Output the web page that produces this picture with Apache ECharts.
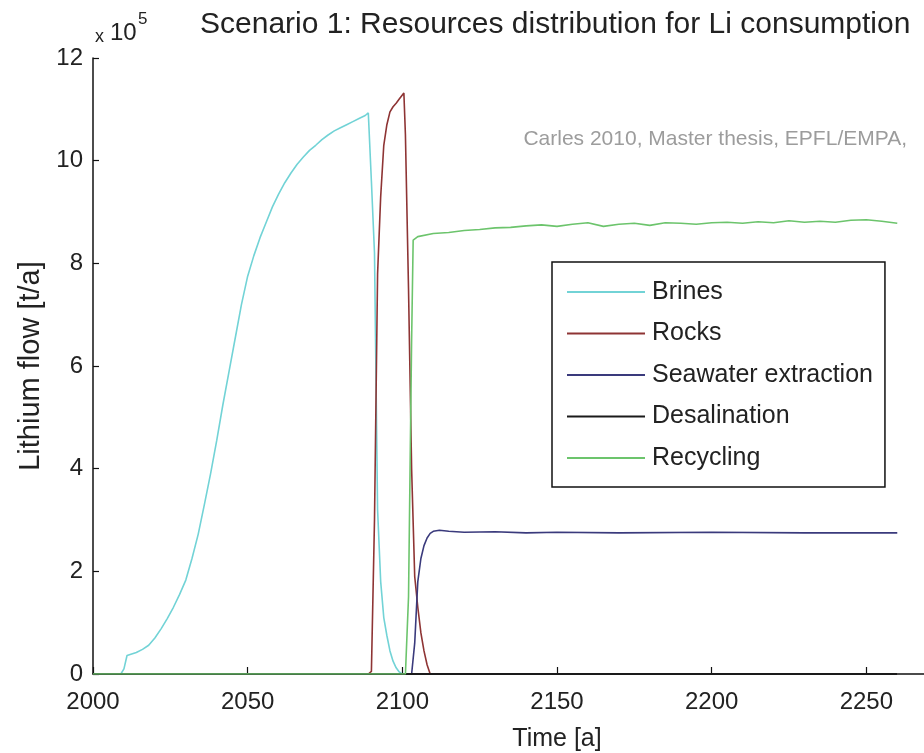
<!DOCTYPE html>
<html>
<head>
<meta charset="utf-8">
<script src="https://cdn.jsdelivr.net/npm/echarts@6/dist/echarts.min.js"></script>
<style>html,body{margin:0;padding:0;background:#fff;}#c{width:924px;height:753px;}</style>
</head>
<body>
<div id="c"></div>
<script>
// Values in units of 10^5 t/a
var brinesYears  = [2000,2009,2010,2011,2012,2014,2016,2018,2020,2022,2024,2026,2028,2030,2032,2034,2036,2038,2040,2042,2044,2046,2048,2050,2052,2054,2056,2058,2060,2062,2064,2066,2068,2070,2072,2074,2076,2078,2080,2082,2084,2086,2088,2089,2090,2091,2092,2093,2094,2095,2096,2097,2098,2099,2100,2260];
var brinesValues = [0,0,0.1,0.36,0.38,0.42,0.48,0.56,0.7,0.88,1.08,1.3,1.55,1.83,2.25,2.72,3.3,3.9,4.55,5.25,5.9,6.55,7.2,7.75,8.15,8.5,8.8,9.1,9.35,9.57,9.76,9.93,10.07,10.2,10.3,10.41,10.5,10.58,10.64,10.7,10.76,10.82,10.88,10.93,9.6,8.2,3.2,1.8,1.1,0.75,0.45,0.25,0.12,0.04,0,0];

var rocksYears  = [2000,2089,2090,2091,2092,2093,2094,2095,2096,2097,2098,2099,2100,2100.5,2101,2102,2103,2104,2105,2106,2107,2108,2109,2260];
var rocksValues = [0,0,0.05,3.0,7.8,9.3,10.3,10.7,10.95,11.05,11.12,11.2,11.28,11.32,10.5,7.5,4.0,1.9,1.3,0.8,0.45,0.18,0,0];

var seawaterYears  = [2000,2103,2104,2105,2106,2107,2108,2109,2110,2112,2115,2120,2130,2140,2150,2170,2200,2230,2260];
var seawaterValues = [0,0,0.6,1.8,2.25,2.5,2.65,2.74,2.78,2.8,2.78,2.76,2.77,2.75,2.76,2.75,2.76,2.75,2.75];

var desalYears  = [2000,2260];
var desalValues = [0,0];

var recyclingYears  = [2000,2101,2102,2103,2103.5,2105,2110,2115,2120,2125,2130,2135,2140,2145,2150,2155,2160,2165,2170,2175,2180,2185,2190,2195,2200,2205,2210,2215,2220,2225,2230,2235,2240,2245,2250,2255,2260];
var recyclingValues = [0,0,1.5,6.5,8.45,8.52,8.58,8.6,8.64,8.66,8.69,8.7,8.73,8.75,8.72,8.76,8.79,8.72,8.76,8.78,8.74,8.79,8.78,8.76,8.79,8.8,8.78,8.81,8.79,8.83,8.8,8.82,8.8,8.84,8.85,8.82,8.78];

var xTicks = {min: 2000, max: 2300, step: 50};
var yTicks = {min: 0, max: 12, step: 2};

function zip(xs, ys) { return xs.map(function (x, i) { return [x, ys[i]]; }); }

var FONT = "'Liberation Sans', Arial, sans-serif";

var chart = echarts.init(document.getElementById('c'), null, {renderer: 'canvas'});
function line(name, xs, ys, color, w) {
  return {
    name: name, type: 'line', data: zip(xs, ys), symbol: 'none', showSymbol: false,
    lineStyle: {color: color, width: w}, itemStyle: {color: color},
    animation: false, clip: true
  };
}
chart.setOption({
  backgroundColor: '#fff',
  animation: false,
  title: {
    text: 'Scenario 1: Resources distribution for Li consumption',
    left: 200, top: 10, padding: 0,
    textStyle: {fontFamily: FONT, fontSize: 30, fontWeight: 'normal', color: '#222'}
  },
  grid: {left: 93, top: 58, width: 928, height: 616, containLabel: false, outerBoundsMode: 'none'},
  xAxis: {
    type: 'value', min: xTicks.min, max: xTicks.max, interval: xTicks.step,
    name: 'Time [a]', nameLocation: 'middle', nameGap: 53,
    nameTextStyle: {fontFamily: FONT, fontSize: 25, color: '#222'},
    axisLine: {show: true, onZero: false, lineStyle: {color: '#111', width: 1.5}},
    axisTick: {show: true, inside: true, length: 7, lineStyle: {color: '#111', width: 1.2}},
    axisLabel: {fontFamily: FONT, fontSize: 24, color: '#222', margin: 16,
      formatter: function (v) { return String(v); }},
    splitLine: {show: false}
  },
  yAxis: {
    type: 'value', min: yTicks.min, max: yTicks.max, interval: yTicks.step,
    name: 'Lithium flow [t/a]', nameLocation: 'middle', nameGap: 44, nameRotate: 90,
    nameTextStyle: {fontFamily: FONT, fontSize: 29, color: '#222'},
    axisLine: {show: true, lineStyle: {color: '#111', width: 1.5}},
    axisTick: {show: true, inside: true, length: 6, lineStyle: {color: '#111', width: 1.2}},
    axisLabel: {fontFamily: FONT, fontSize: 24, color: '#222', margin: 10,
      formatter: function (v) { return String(v); }},
    splitLine: {show: false}
  },
  legend: {
    orient: 'vertical', left: 552, top: 262,
    padding: [17.5, 12, 16.5, 15],
    icon: 'rect', itemWidth: 78, itemHeight: 2, itemGap: 16.5,
    borderColor: '#111', borderWidth: 1.5, backgroundColor: '#fff',
    textStyle: {fontFamily: FONT, fontSize: 25, color: '#222', padding: [0, 0, 0, 2]},
    data: ['Brines', 'Rocks', 'Seawater extraction', 'Desalination', 'Recycling']
  },
  graphic: [
    {type: 'text', left: 95, top: 28, style: {text: 'x', fontFamily: FONT, fontSize: 18, fill: '#222'}},
    {type: 'text', left: 110, top: 21, style: {text: '10', fontFamily: FONT, fontSize: 24, fill: '#222'}},
    {type: 'text', left: 138, top: 11, style: {text: '5', fontFamily: FONT, fontSize: 17, fill: '#222'}},
    {type: 'text', right: 17, top: 129, style: {text: 'Carles 2010, Master thesis, EPFL/EMPA,', fontFamily: FONT, fontSize: 21, fill: '#9c9c9c'}}
  ],
  series: [
    line('Brines', brinesYears, brinesValues, '#72d3d6', 1.6),
    line('Rocks', rocksYears, rocksValues, '#8e3434', 1.6),
    line('Seawater extraction', seawaterYears, seawaterValues, '#3a3a7c', 1.6),
    line('Desalination', desalYears, desalValues, '#1a1a1a', 1.8),
    line('Recycling', recyclingYears, recyclingValues, '#6cc46c', 1.6)
  ]
});
</script>
</body>
</html>
